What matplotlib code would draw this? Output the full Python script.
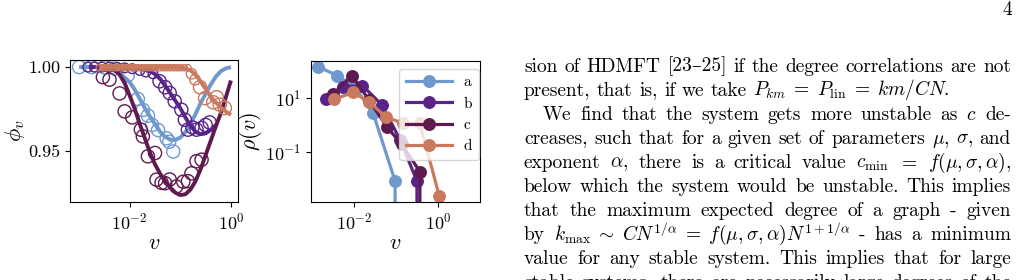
import numpy as np
import matplotlib
matplotlib.use("Agg")
import matplotlib.pyplot as plt
from matplotlib.ticker import FixedLocator, NullLocator, FixedFormatter, LogFormatterSciNotation

# ---------------- data ----------------
series_labels = ["a", "b", "c", "d"]

# left panel: fitted curves phi_v(v)   (log10 v, phi)
line_a_logv = [-3.0, -2.8, -2.6, -2.4, -2.2, -2.0, -1.9, -1.8, -1.7, -1.6, -1.5, -1.4, -1.3, -1.2,
               -1.1, -1.0, -0.9, -0.8, -0.7, -0.6, -0.5, -0.4, -0.3, -0.2, -0.1, 0.0]
line_a_phi = [1.0, 1.0, 0.9998, 0.9990, 0.9965, 0.9910, 0.9865, 0.9810, 0.9755, 0.9705, 0.9660,
              0.9615, 0.9585, 0.9567, 0.9566, 0.9580, 0.9612, 0.9660, 0.9720, 0.9785, 0.9840,
              0.9895, 0.9942, 0.9975, 0.9992, 1.0]
line_b_logv = [-2.8, -2.5, -2.2, -2.0, -1.8, -1.6, -1.5, -1.4, -1.3, -1.2, -1.1, -1.0, -0.9, -0.8,
               -0.7, -0.6, -0.5, -0.4, -0.3]
line_b_phi = [1.0, 1.0, 0.9999, 0.9996, 0.9990, 0.9975, 0.9958, 0.9930, 0.9890, 0.9845, 0.9800,
              0.9755, 0.9700, 0.9650, 0.9615, 0.9600, 0.9605, 0.9625, 0.9655]
line_c_logv = [-2.6, -2.4, -2.3, -2.2, -2.1, -2.0, -1.9, -1.8, -1.7, -1.6, -1.5, -1.4, -1.3, -1.2,
               -1.1, -1.0, -0.9, -0.8, -0.7, -0.6, -0.5, -0.4, -0.3, -0.2, -0.1, 0.0]
line_c_phi = [1.0, 0.9995, 0.9982, 0.9955, 0.9905, 0.9830, 0.9750, 0.9660, 0.9575, 0.9490, 0.9420,
              0.9365, 0.9320, 0.9283, 0.9252, 0.9237, 0.9242, 0.9270, 0.9320, 0.9390, 0.9475,
              0.9560, 0.9645, 0.9725, 0.9820, 0.9920]
line_d_logv = [-2.6, -1.2, -1.0, -0.9, -0.8, -0.7, -0.6, -0.5, -0.4, -0.3, -0.2, -0.1, 0.0]
line_d_phi = [1.0, 1.0, 0.9998, 0.9993, 0.9980, 0.9955, 0.9915, 0.9870, 0.9825, 0.9790, 0.9760,
              0.9735, 0.9715]

# left panel: simulation circles
pts_a_logv = [-3.0, -2.75, -2.5, -2.3, -2.04, -1.84, -1.74, -1.64, -1.56, -1.44, -1.27, -1.22, -1.14]
pts_a_phi = [1.0, 1.0, 0.9998, 0.9990, 0.9950, 0.9810, 0.9745, 0.9710, 0.9655, 0.9625, 0.9575,
             0.9555, 0.9497]
pts_b_logv = [-2.83, -2.7, -2.55, -2.4, -2.25, -2.1, -1.95, -1.8, -1.68, -1.54, -1.41, -1.30, -1.21,
              -1.11, -0.98, -0.91, -0.85, -0.76, -0.68, -0.58, -0.50, -0.42]
pts_b_phi = [1.0, 1.0, 1.0, 1.0, 0.9998, 0.9995, 0.9990, 0.9980, 0.9970, 0.9960, 0.9915, 0.9880,
             0.9845, 0.9796, 0.9746, 0.9686, 0.9627, 0.9640, 0.9627, 0.9637, 0.9655, 0.9670]
pts_c_logv = [-2.53, -2.40, -2.20, -2.10, -1.95, -1.78, -1.74, -1.64, -1.50, -1.47, -1.37, -1.30,
              -1.21, -1.08, -0.94, -0.85, -0.78, -0.68, -0.58]
pts_c_phi = [0.9940, 0.9925, 0.9843, 0.9736, 0.9700, 0.9627, 0.9587, 0.9468, 0.9488, 0.9329,
             0.9310, 0.9308, 0.9330, 0.9288, 0.9317, 0.9320, 0.9367, 0.9439, 0.9448]
pts_d_logv = [-2.60, -2.53, -2.46, -2.39, -2.32, -2.25, -2.18, -2.11, -2.04, -1.97, -1.90, -1.83,
              -1.76, -1.69, -1.62, -1.55, -1.48, -1.41, -1.34, -1.27, -1.20, -1.13, -1.06, -0.99,
              -0.92, -0.85, -0.78, -0.71, -0.61, -0.51, -0.35, -0.28, -0.22, -0.12]
pts_d_phi = [0.9996] * 26 + [0.9960, 0.9924, 0.9880, 0.9815, 0.9790, 0.9820, 0.9776, 0.9756]

# right panel: rho(v)
rho_a_logv = [-2.85, -2.40, -1.98, -1.54, -1.02, -0.60]
rho_a = [145.0, 68.0, 26.0, 2.7, 0.0085, 0.0]
rho_b_logv = [-2.67, -2.25, -1.80, -1.33, -0.90, -0.50, -0.10]
rho_b = [8.9, 26.0, 29.0, 5.5, 0.28, 0.0085, 0.0]
rho_c_logv = [-2.49, -2.05, -1.64, -1.22, -0.86, -0.43, -0.05]
rho_c = [14.0, 68.0, 8.5, 0.87, 0.19, 0.019, 0.0]
rho_d_logv = [-2.47, -2.02, -1.64, -1.24, -0.83, -0.43, 0.03]
rho_d = [8.9, 16.0, 7.2, 2.0, 1.15, 1.15, 0.0024]

# page text
page_number = "4"
text_lines = [
    (["sion", "of", "HDMFT", "[23–25]", "if", "the", "degree", "correlations", "are", "not"], True, 0),
    (["present,", "that", "is,", "if", "we", "take", r"$P_{km}\;=\;P_{\mathrm{lin}}\;=\;km/CN$."], False, 0),
    (["We", "find", "that", "the", "system", "gets", "more", "unstable", "as", r"$c$", "de-"], True, 1),
    (["creases,", "such", "that", "for", "a", "given", "set", "of", "parameters", r"$\mu$,", r"$\sigma$,", "and"], True, 0),
    (["exponent", r"$\alpha$,", "there", "is", "a", "critical", "value", r"$c_{\mathrm{min}}$", r"$=$",
      r"$f(\mu,\sigma,\alpha)$,"], True, 0),
    (["below", "which", "the", "system", "would", "be", "unstable.", "This", "implies"], True, 0),
    (["that", "the", "maximum", "expected", "degree", "of", "a", "graph", "-", "given"], True, 0),
    (["by", r"$k_{\mathrm{max}}\;\sim\;CN^{1/\alpha}\;=\;f(\mu,\sigma,\alpha)N^{1+1/\alpha}$", "-", "has", "a",
      "minimum"], True, 0),
    (["value", "for", "any", "stable", "system.", "This", "implies", "that", "for", "large"], True, 0),
    (["stable", "systems,", "there", "are", "necessarily", "large", "degrees", "of", "the"], True, 0),
]

# ---------------- style ----------------
plt.rcParams["font.family"] = ["cmr10", "DejaVu Serif"]
plt.rcParams["mathtext.fontset"] = "cm"
plt.rcParams["axes.formatter.use_mathtext"] = True
plt.rcParams["axes.unicode_minus"] = False

colors = ["#6f98cc", "#59238a", "#5e1a4f", "#c97a5e"]
W, H = 1020, 280
fig = plt.figure(figsize=(W / 100, H / 100), dpi=100)

TICK_FS = 13
LABEL_FS = 16

# ---------------- left panel ----------------
ax1 = fig.add_axes([70 / W, 1 - 202 / H, 168 / W, 142 / H])
lines_left = [(line_a_logv, line_a_phi), (line_b_logv, line_b_phi),
              (line_c_logv, line_c_phi), (line_d_logv, line_d_phi)]
pts_left = [(pts_a_logv, pts_a_phi), (pts_b_logv, pts_b_phi),
            (pts_c_logv, pts_c_phi), (pts_d_logv, pts_d_phi)]
for i, ((lx, ly), (px, py)) in enumerate(zip(lines_left, pts_left)):
    ax1.plot(10 ** np.array(lx), ly, color=colors[i], lw=2.8, zorder=2 + i, solid_capstyle="butt")
    sizes = np.full(len(px), 9.5 ** 2)
    if i == 1:
        sizes[:10] = 7.0 ** 2
    if i == 3:
        sizes[:26] = 4.5 ** 2
        sizes[26:28] = 7.5 ** 2
    ax1.scatter(10 ** np.array(px), py, s=sizes, facecolors="none", edgecolors=colors[i],
                linewidths=1.0, zorder=2 + i)
ax1.set_xscale("log")
ax1.set_xlim(10 ** -3.18, 10 ** 0.14)
ax1.set_ylim(0.9196, 1.0042)
ax1.xaxis.set_major_locator(FixedLocator([1e-2, 1e0]))
ax1.xaxis.set_minor_locator(NullLocator())
ax1.xaxis.set_major_formatter(LogFormatterSciNotation())
ax1.yaxis.set_major_locator(FixedLocator([0.95, 1.00]))
ax1.yaxis.set_major_formatter(FixedFormatter(["0.95", "1.00"]))
ax1.tick_params(labelsize=TICK_FS)
ax1.set_xlabel(r"$v$", fontsize=LABEL_FS, labelpad=1)
ax1.set_ylabel(r"$\phi_v$", fontsize=LABEL_FS, labelpad=1)

# ---------------- right panel ----------------
ax2 = fig.add_axes([311 / W, 1 - 202 / H, 169 / W, 141 / H])
rho_series = [(rho_a_logv, rho_a), (rho_b_logv, rho_b), (rho_c_logv, rho_c), (rho_d_logv, rho_d)]
for i, (lx, ry) in enumerate(rho_series):
    ax2.plot(10 ** np.array(lx), ry, color=colors[i], lw=2.3, marker="o", ms=8.3,
             label=series_labels[i])
ax2.set_xscale("log")
ax2.set_yscale("log", nonpositive="clip")
ax2.set_xlim(10 ** -3.02, 10 ** 1.0)
ax2.set_ylim(10 ** -2.85, 10 ** 2.37)
ax2.xaxis.set_major_locator(FixedLocator([1e-2, 1e0]))
ax2.xaxis.set_minor_locator(NullLocator())
ax2.yaxis.set_major_locator(FixedLocator([1e-1, 1e1]))
ax2.yaxis.set_minor_locator(NullLocator())
ax2.xaxis.set_major_formatter(LogFormatterSciNotation())
ax2.yaxis.set_major_formatter(LogFormatterSciNotation())
ax2.tick_params(labelsize=TICK_FS)
ax2.set_xlabel(r"$v$", fontsize=LABEL_FS, labelpad=1)
ax2.set_ylabel(r"$\rho(v)$", fontsize=LABEL_FS, labelpad=1)
ax2.legend(loc="upper right", bbox_to_anchor=(1.04, 1.0), fontsize=11, handlelength=3.0,
           borderaxespad=0.5, borderpad=0.45)

# ---------------- page text (justified) ----------------
TEXT_FS = 14
LEFT, RIGHT = 524, 1011
INDENT = 19
BASE0, LEAD = 71.5, 24.0
fig.text(1012 / W, 1 - 15 / H, page_number, fontsize=TEXT_FS, ha="right", va="baseline")

renderer = fig.canvas.get_renderer()
space_px = 0.333 * TEXT_FS * 100 / 72
for k, (tokens, justify, indent) in enumerate(text_lines):
    yb = 1 - (BASE0 + k * LEAD) / H
    texts = [fig.text(0, yb, tok, fontsize=TEXT_FS, ha="left", va="baseline") for tok in tokens]
    widths = [t.get_window_extent(renderer).width for t in texts]
    x0 = LEFT + indent * INDENT
    if justify and len(tokens) > 1:
        gap = (RIGHT - x0 - sum(widths)) / (len(tokens) - 1)
    else:
        gap = space_px
    x = x0
    for t, w in zip(texts, widths):
        t.set_x(x / W)
        x += w + gap

fig.savefig("out.png", dpi=100)
